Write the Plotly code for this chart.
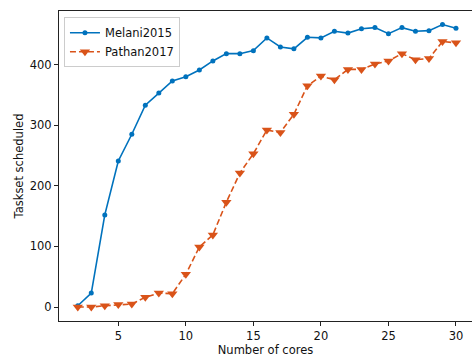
import plotly.graph_objects as go

cores = list(range(2, 31))
melani2015 = [2, 23, 152, 241, 285, 333, 353, 373, 380, 391, 406, 418, 418, 423,
              444, 429, 426, 445, 444, 455, 452, 459, 461, 451, 461, 455, 456, 466, 460]
pathan2017 = [0, 0, 2, 4, 5, 16, 23, 22, 54, 99, 119, 173, 221, 253,
              292, 288, 318, 365, 381, 375, 392, 392, 401, 406, 418, 408, 410, 438, 436]

BLUE = "#0072BD"
ORANGE = "#D95319"
FONT = "DejaVu Sans"
FS = 11.5

fig = go.Figure()
fig.add_trace(go.Scatter(
    x=cores, y=melani2015, name="Melani2015", mode="lines+markers",
    line=dict(color=BLUE, width=1.6),
    marker=dict(symbol="circle", size=5, color=BLUE),
))
fig.add_trace(go.Scatter(
    x=cores, y=pathan2017, name="Pathan2017", mode="lines+markers",
    line=dict(color=ORANGE, width=1.6, dash="6px,3px"),
    marker=dict(symbol="triangle-down", size=9, color=ORANGE),
))

fig.update_layout(
    width=472, height=358,
    margin=dict(l=59, r=0, t=11, b=37),
    paper_bgcolor="white", plot_bgcolor="white",
    font=dict(family=FONT, size=FS, color="#111"),
    showlegend=True,
    legend=dict(
        x=0.012, y=0.98, xanchor="left", yanchor="top",
        bgcolor="rgba(255,255,255,0.8)", bordercolor="#cccccc", borderwidth=1,
        font=dict(family=FONT, size=FS, color="#111"),
        tracegroupgap=0, itemwidth=30,
    ),
    xaxis=dict(
        range=[0.61, 31.185], tickvals=[5, 10, 15, 20, 25, 30],
        showgrid=False, zeroline=False,
        showline=True, linecolor="#222", linewidth=1, mirror=True,
        ticks="outside", ticklen=4, tickcolor="#222",
        title=dict(text="Number of cores", standoff=4, font=dict(size=FS)),
    ),
    yaxis=dict(
        range=[-23.1, 488.4], tickvals=[0, 100, 200, 300, 400],
        showgrid=False, zeroline=False,
        showline=True, linecolor="#222", linewidth=1,
        ticks="outside", ticklen=4, tickcolor="#222",
        title=dict(text="Taskset scheduled", standoff=3, font=dict(size=FS)),
    ),
)

fig.write_html("out.html")
